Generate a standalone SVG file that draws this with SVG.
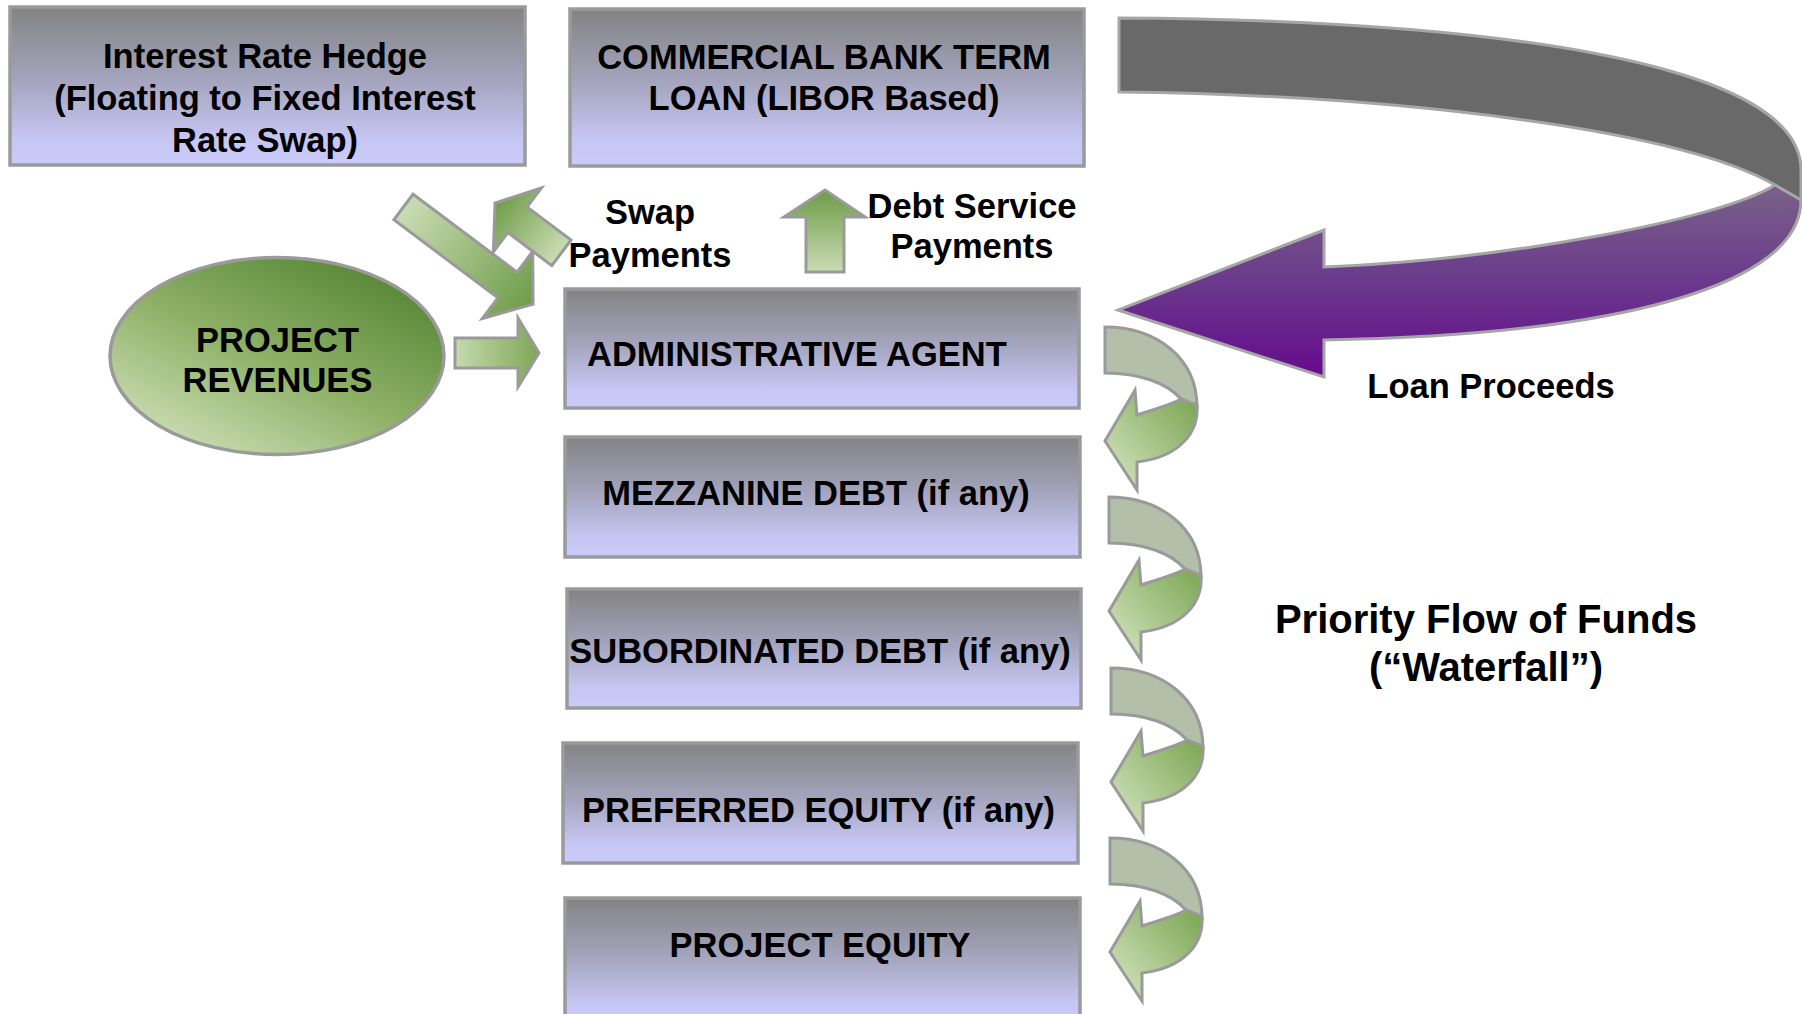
<svg xmlns="http://www.w3.org/2000/svg" width="1802" height="1014" viewBox="0 0 1802 1014">
<defs>
<style>
.box{fill:url(#boxGrad);stroke:#9a9a9a;stroke-width:3.5}
.t{font-family:"Liberation Sans",Arial,sans-serif;font-weight:bold;font-size:34.5px;fill:#000;text-anchor:middle}
.g{stroke:#9a9a9a;stroke-width:3;stroke-linejoin:miter}
.wg{fill:#b3bfa9;stroke:#9a9a9a;stroke-width:3}
.wgreen{fill:url(#wfGreen);stroke:#9a9a9a;stroke-width:3}
</style>
<linearGradient id="boxGrad" x1="0" y1="0" x2="0" y2="1">
<stop offset="0" stop-color="#838383"/>
<stop offset="0.45" stop-color="#a3a3bc"/>
<stop offset="0.85" stop-color="#c7c7f5"/>
<stop offset="1" stop-color="#cbcbfb"/>
</linearGradient>
<linearGradient id="ellGrad" x1="0.85" y1="0.15" x2="0.2" y2="0.95">
<stop offset="0" stop-color="#5c8a3a"/>
<stop offset="0.5" stop-color="#8db066"/>
<stop offset="1" stop-color="#c9dcb2"/>
</linearGradient>
<linearGradient id="arrGrad" x1="0" y1="0" x2="1" y2="0">
<stop offset="0" stop-color="#cadcb4"/>
<stop offset="1" stop-color="#6e9c48"/>
</linearGradient>
<linearGradient id="upGrad" x1="0" y1="0" x2="0" y2="1">
<stop offset="0" stop-color="#6d9b47"/>
<stop offset="1" stop-color="#cadcb4"/>
</linearGradient>
<linearGradient id="rightGrad" x1="0" y1="0" x2="1" y2="0">
<stop offset="0" stop-color="#c6daae"/>
<stop offset="1" stop-color="#7ea756"/>
</linearGradient>
<linearGradient id="wfGreen" x1="1" y1="0" x2="0.1" y2="0.9">
<stop offset="0" stop-color="#76a24c"/>
<stop offset="1" stop-color="#cfe1ba"/>
</linearGradient>
<linearGradient id="purpleGrad" gradientUnits="userSpaceOnUse" x1="0" y1="183" x2="0" y2="377">
<stop offset="0" stop-color="#7a6388"/>
<stop offset="0.5" stop-color="#6a3a8c"/>
<stop offset="1" stop-color="#67098d"/>
</linearGradient>
<path id="wfGrayShape" d="M0,0 C50,0 92,30 92,80 L76,72 C62,56 35,46 0,46 Z"/>
<path id="wfGreenShape" d="M76,72 L92,78 C94,105 75,130 32,135 L32,163 L0,114 L30,63 L32,88 C50,82 65,78 76,72 Z"/>
</defs>
<rect width="1802" height="1014" fill="#ffffff"/>

<g id="hedge">
<rect class="box" x="10" y="7" width="515" height="158"/>
<text class="t" x="265" y="68">Interest Rate Hedge</text>
<text class="t" x="265" y="110">(Floating to Fixed Interest</text>
<text class="t" x="265" y="152">Rate Swap)</text>
</g>
<g id="bankloan">
<rect class="box" x="570" y="9" width="514" height="157"/>
<text class="t" x="824" y="69">COMMERCIAL BANK TERM</text>
<text class="t" x="824" y="110">LOAN (LIBOR Based)</text>
</g>
<g id="revenues">
<ellipse cx="277" cy="356" rx="167" ry="98.5" fill="url(#ellGrad)" stroke="#9a9a9a" stroke-width="3.5"/>
<text class="t" x="277.5" y="352">PROJECT</text>
<text class="t" x="277.5" y="392">REVENUES</text>
</g>
<g id="agent">
<rect class="box" x="565" y="289" width="514" height="119"/>
<text class="t" x="587" y="366" style="text-anchor:start">ADMINISTRATIVE AGENT</text>
</g>
<g id="mezzanine">
<rect class="box" x="565" y="437" width="515" height="120"/>
<text class="t" x="816" y="505">MEZZANINE DEBT (if any)</text>
</g>
<g id="subordinated">
<rect class="box" x="567" y="589" width="514" height="119"/>
<text class="t" x="820" y="663">SUBORDINATED DEBT (if any)</text>
</g>
<g id="preferred">
<rect class="box" x="563" y="743" width="515" height="120"/>
<text class="t" x="818.5" y="822">PREFERRED EQUITY (if any)</text>
</g>
<g id="equity">
<rect class="box" x="565" y="898" width="515" height="125"/>
<text class="t" x="820" y="957">PROJECT EQUITY</text>
</g>

<g id="connectors">
<g id="swap-in">
<path class="g" fill="url(#arrGrad)" transform="translate(403.5,207) rotate(36.87)" d="M0,-16 L130,-16 L130,-42 L162,0 L130,42 L130,16 L0,16 Z"/>
</g>
<g id="swap-out">
<path class="g" fill="url(#arrGrad)" transform="translate(561.4,252.8) rotate(216.87)" d="M0,-16 L55,-16 L55,-40 L83,0 L55,40 L55,16 L0,16 Z"/>
</g>
<g id="debt-service">
<path class="g" fill="url(#upGrad)" d="M825,190 L865,217 L844,217 L844,272 L806,272 L806,217 L784,217 Z"/>
</g>
<g id="revenue-flow">
<path class="g" fill="url(#rightGrad)" d="M455,338 L518,338 L518,318 L539,353 L518,387 L518,368 L455,368 Z"/>
</g>
<g id="loan-proceeds">
<path d="M1119,18 C1480,20 1801,60 1801,170 L1801,202 L1775,185 C1680,130 1400,95 1119,92 Z" fill="#696969" stroke="#a6a6a6" stroke-width="3"/>
<path d="M1775,185 L1801,200 C1801,285 1620,335 1324,340 L1324,377 L1118,310 L1324,230 L1324,267 C1500,260 1720,220 1775,185 Z" fill="url(#purpleGrad)" stroke="#a6a6a6" stroke-width="3"/>
</g>
<g id="waterfall-1" transform="translate(1105,327)">
<use href="#wfGrayShape" class="wg"/>
<use href="#wfGreenShape" class="wgreen"/>
</g>
<g id="waterfall-2" transform="translate(1109,497)">
<use href="#wfGrayShape" class="wg"/>
<use href="#wfGreenShape" class="wgreen"/>
</g>
<g id="waterfall-3" transform="translate(1111,668)">
<use href="#wfGrayShape" class="wg"/>
<use href="#wfGreenShape" class="wgreen"/>
</g>
<g id="waterfall-4" transform="translate(1110,838)">
<use href="#wfGrayShape" class="wg"/>
<use href="#wfGreenShape" class="wgreen"/>
</g>
</g>

<g id="labels">
<text class="t" x="650" y="224">Swap</text>
<text class="t" x="650" y="267">Payments</text>
<text class="t" x="972" y="218">Debt Service</text>
<text class="t" x="972" y="258">Payments</text>
<text class="t" x="1491" y="398">Loan Proceeds</text>
<text class="t" x="1486" y="633" style="font-size:40px">Priority Flow of Funds</text>
<text class="t" x="1486" y="681" style="font-size:40px">(“Waterfall”)</text>
</g>
</svg>
